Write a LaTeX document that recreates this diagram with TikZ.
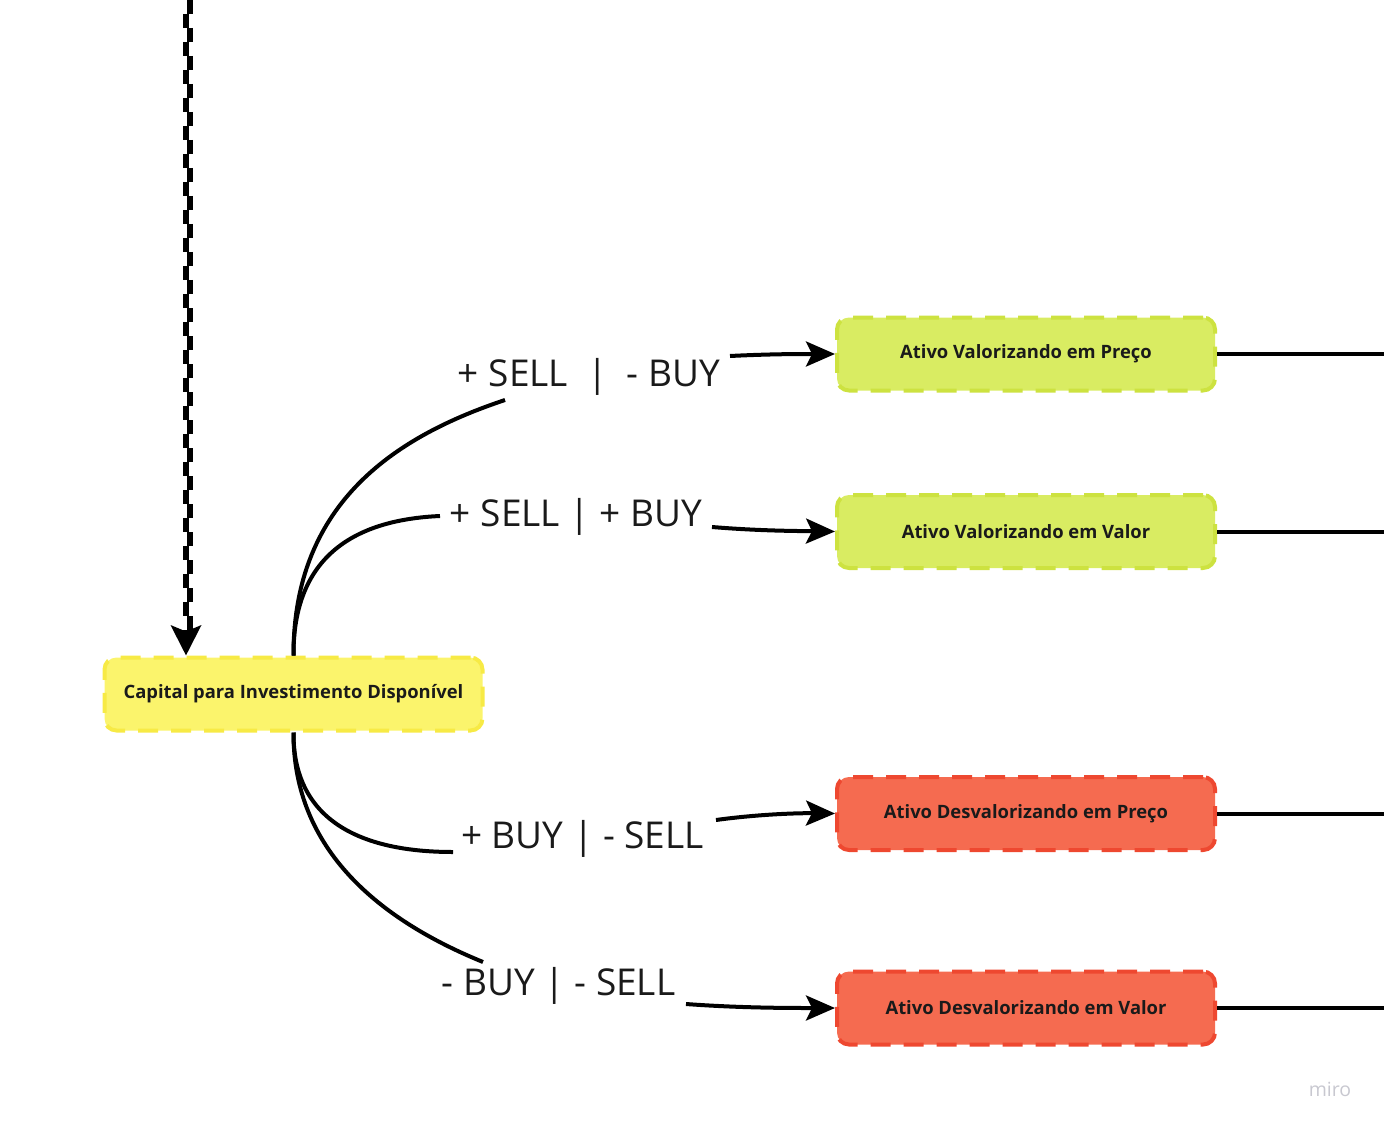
\documentclass[tikz,border=0pt]{standalone}
\usepackage{fontspec}
\setmainfont{Open Sans}
\usetikzlibrary{arrows.meta}
\definecolor{yfill}{HTML}{FBF46C}
\definecolor{yline}{HTML}{F7EA45}
\definecolor{gfill}{HTML}{D9EC62}
\definecolor{gline}{HTML}{CDE240}
\definecolor{rfill}{HTML}{F56B50}
\definecolor{rline}{HTML}{EE4830}
\definecolor{txt}{HTML}{1A1A1A}
\definecolor{wm}{HTML}{C8C8D0}
\begin{document}
\begin{tikzpicture}[x=0.5pt,y=-0.5pt,
  box/.style={rectangle, rounded corners=6pt, line width=2pt, dash pattern=on 10pt off 6.5pt,
    minimum width=189pt, minimum height=36.5pt, inner sep=0pt,
    font=\fontsize{9.2pt}{11pt}\selectfont\bfseries, text=txt},
  lbl/.style={font=\fontsize{18.5pt}{22pt}\selectfont, text=txt, inner sep=0pt, anchor=base},
  conn/.style={line width=2pt, black},
  arr/.style={conn, -{Stealth[length=14.5pt,width=12.5pt,inset=3pt]}},
  jag/.style={line width=2.6pt, dash pattern=on 7pt off 7pt}]
\useasboundingbox (0,0) rectangle (1384,1128);

% nodes
\node[box, fill=yfill, draw=yline] (cap) at (293.5,694) {Capital para Investimento Disponível};
\node[box, fill=gfill, draw=gline] (n1) at (1026,354) {Ativo Valorizando em Preço};
\node[box, fill=gfill, draw=gline] (n2) at (1026,531.5) {Ativo Valorizando em Valor};
\node[box, fill=rfill, draw=rline] (n3) at (1026,813.5) {Ativo Desvalorizando em Preço};
\node[box, fill=rfill, draw=rline] (n4) at (1026,1008) {Ativo Desvalorizando em Valor};

% labels
\node[lbl] (l1) at (589,386) {+ SELL\ \ |\ \ - BUY};
\node[lbl] (l2) at (576,526.5) {+ SELL | + BUY};
\node[lbl] (l3) at (582.5,848.5) {+ BUY | - SELL};
\node[lbl] (l4) at (558.5,995.5) {- BUY | - SELL};

% break points of the connectors around labels
\coordinate (b1a) at (505,400); \coordinate (b1b) at (730,356);
\coordinate (b2a) at (440,516); \coordinate (b2b) at (712,527);
\coordinate (b3a) at (453,852); \coordinate (b3b) at (716,820);
\coordinate (b4a) at (483,962); \coordinate (b4b) at (686,1004);

% right edge coordinates
\coordinate (r1) at (1384,354);
\coordinate (r2) at (1384,531.5);
\coordinate (r3) at (1384,813.5);
\coordinate (r4) at (1384,1008);

% connectors
\draw[conn] (cap.north) .. controls (293,500) and (400,435) .. (b1a);
\draw[arr] (b1b) .. controls (770,354) and (800,354) .. (n1.west);
\draw[conn] (cap.north) .. controls (293,560) and (350,520) .. (b2a);
\draw[arr] (b2b) .. controls (760,531) and (800,531) .. (n2.west);
\draw[conn] (cap.south) .. controls (293,820) and (360,852) .. (b3a);
\draw[arr] (b3b) .. controls (760,814) and (800,813) .. (n3.west);
\draw[conn] (cap.south) .. controls (293,850) and (380,920) .. (b4a);
\draw[arr] (b4b) .. controls (740,1008) and (790,1008) .. (n4.west);

\draw[conn] (n1.east) -- (r1);
\draw[conn] (n2.east) -- (r2);
\draw[conn] (n3.east) -- (r3);
\draw[conn] (n4.east) -- (r4);

% dashed incoming arrow
\coordinate (top) at (186,0);
\coordinate (top2) at (190,0);
\draw[jag, shorten >=12pt] (top2) -- (top2 |- cap.north);
\draw[jag, dash phase=7pt,
  -{Stealth[length=15pt,width=15pt,inset=3pt]}] (top) -- (top |- cap.north);

% watermark
\node[font=\fontsize{9.75pt}{11pt}\selectfont, text=wm] (wm) at (1330,1089) {miro};
\end{tikzpicture}
\end{document}
